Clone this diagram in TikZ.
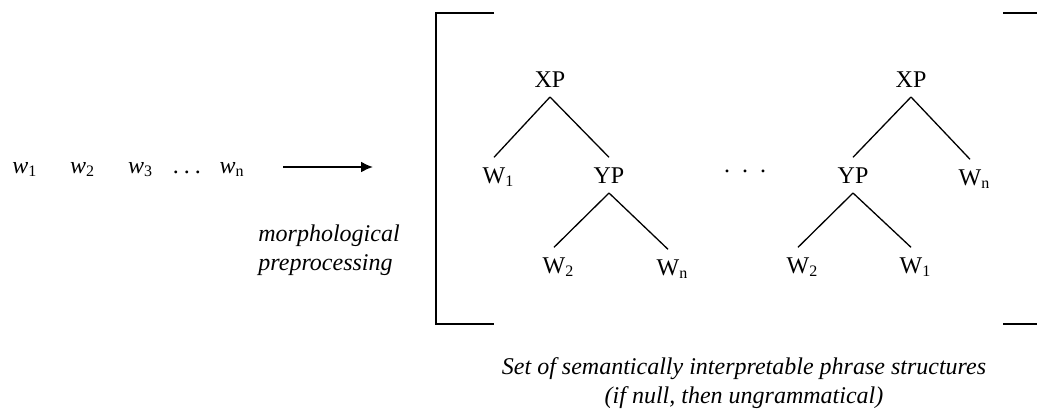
\documentclass[tikz,border=0pt]{standalone}
\usepackage{fontspec}
\setmainfont{Liberation Serif}
\usetikzlibrary{arrows.meta, positioning}
\tikzset{
  word/.style={inner sep=0pt, font=\fontsize{12}{14}\selectfont},
  cat/.style={inner sep=0pt, outer sep=5pt, font=\fontsize{12}{14}\selectfont},
  note/.style={inner sep=0pt, font=\fontsize{12}{14.5}\selectfont\itshape},
  branch/.style={line width=0.65pt},
  brack/.style={line width=1pt},
  arrowK/.style={-{Latex[length=6pt, width=5.5pt]}, line width=1pt},
}
\newcommand{\wsub}[1]{\textit{w}\textsubscript{#1}}
\newcommand{\Wsub}[1]{W\rlap{\textsubscript{#1}}}
\newcommand{\spdots}[1]{.\hspace{#1}.\hspace{#1}.}

\begin{document}
\begin{tikzpicture}[x=0.5pt, y=-0.5pt]
  \useasboundingbox (0,0) rectangle (1037,414);

  % input words
  \node[word, anchor=base west] (w1) at (12,173) {\wsub{1}};
  \node[word, base right=16pt of w1] (w2) {\wsub{2}};
  \node[word, base right=16pt of w2] (w3) {\wsub{3}};
  \node[word, base right=9.5pt of w3] (wdots) {\spdots{2.5pt}};
  \node[word, base right=9pt of wdots] (wn) {\wsub{n}};

  % preprocessing step
  \coordinate (arrS) at (283,167);
  \coordinate (arrE) at (373,167);
  \draw[arrowK] (arrS) -- (arrE);
  \node[note, align=left, anchor=north west] (morph) at (258,224) {morphological\\preprocessing};

  % brackets
  \draw[brack] (494,13) -- (436,13) -- (436,324) -- (494,324);
  \draw[brack] (1003,13) -- (1037,13);
  \draw[brack] (1003,324) -- (1037,324);

  % first tree
  \node[cat, anchor=base] (xp1) at (550,87) {XP};
  \node[cat, anchor=base] (w1l) at (494,183) {\Wsub{1}};
  \node[cat, anchor=base] (yp1) at (609,183) {YP};
  \node[cat, anchor=base] (w2l) at (554,273) {\Wsub{2}};
  \node[cat, anchor=base] (wnl) at (668,275) {\Wsub{n}};
  \draw[branch] (xp1.south) -- (w1l.north);
  \draw[branch] (xp1.south) -- (yp1.north);
  \draw[branch] (yp1.south) -- (w2l.north);
  \draw[branch] (yp1.south) -- (wnl.north);

  \node[word, anchor=base] (tdots) at (745,172) {\spdots{6pt}};

  % second tree
  \node[cat, anchor=base] (xp2) at (911,87) {XP};
  \node[cat, anchor=base] (yp2) at (853,183) {YP};
  \node[cat, anchor=base] (wnr) at (970,185) {\Wsub{n}};
  \node[cat, anchor=base] (w2r) at (798,273) {\Wsub{2}};
  \node[cat, anchor=base] (w1r) at (911,273) {\Wsub{1}};
  \draw[branch] (xp2.south) -- (yp2.north);
  \draw[branch] (xp2.south) -- (wnr.north);
  \draw[branch] (yp2.south) -- (w2r.north);
  \draw[branch] (yp2.south) -- (w1r.north);

  % caption
  \node[note, align=center, anchor=north] (caption) at (744,357)
    {Set of semantically interpretable phrase structures\\(if null, then ungrammatical)};
\end{tikzpicture}
\end{document}
